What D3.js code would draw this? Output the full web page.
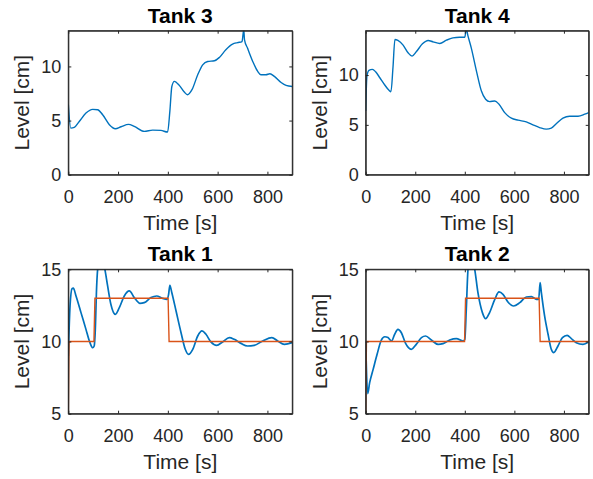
<!DOCTYPE html>
<html>
<head>
<meta charset="utf-8">
<script src="https://cdn.jsdelivr.net/npm/d3@7"></script>
<style>
  body { margin: 0; background: #fff; }
  text { font-family: "Liberation Sans", Arial, Helvetica, sans-serif; fill: #262626; }
  .axis path, .axis line { stroke: #262626; stroke-width: 1; }
  .chart__title { font-weight: bold; fill: #000; }
</style>
</head>
<body>
<div id="tank-chart"></div>
<script>
var xTicks = [0, 200, 400, 600, 800];
var upperTicks = [0, 5, 10];
var lowerTicks = [5, 10, 15];

var tank3Time  = [0, 10, 24, 44, 71, 98, 118, 138, 165, 189, 212, 242, 265, 305, 339, 372, 399, 408, 416, 426, 446, 466, 479, 497, 520, 540, 560, 587, 607, 633, 660, 680, 698, 705, 708, 720, 741, 761, 774, 794, 810, 828, 855, 875, 900];
var tank3Level = [6.5, 4.3, 4.37, 4.92, 5.69, 6.03, 6.0, 5.54, 4.62, 4.25, 4.43, 4.65, 4.46, 4.0, 4.12, 4.09, 3.94, 5.85, 8.15, 8.62, 8.25, 7.63, 7.38, 7.85, 9.23, 10.15, 10.46, 10.52, 10.83, 11.54, 12.06, 12.2, 12.3, 13.4, 12.46, 11.7, 10.46, 9.54, 9.23, 9.23, 9.32, 9.08, 8.52, 8.25, 8.15];

var tank4Time  = [0, 5, 13, 27, 40, 57, 77, 94, 102, 110, 118, 130, 151, 171, 187, 204, 229, 252, 272, 299, 326, 352, 379, 400, 406, 413, 426, 447, 467, 484, 500, 521, 538, 561, 588, 615, 648, 675, 702, 729, 749, 770, 796, 823, 857, 884, 900];
var tank4Level = [6.4, 9.9, 10.47, 10.57, 10.33, 9.73, 9.0, 8.47, 8.33, 10.73, 13.57, 13.47, 13.0, 12.23, 11.9, 12.33, 13.13, 13.47, 13.33, 13.17, 13.5, 13.73, 13.8, 13.8, 14.6, 13.9, 12.73, 10.4, 8.4, 7.57, 7.33, 7.4, 7.07, 6.23, 5.67, 5.47, 5.3, 5.0, 4.73, 4.57, 4.67, 5.13, 5.67, 5.87, 5.87, 6.07, 6.23];

var tank1Time  = [0, 7, 15, 20, 31, 51, 71, 87, 98, 104, 108, 114, 118, 132, 147, 158, 171, 189, 205, 225, 245, 265, 288, 305, 332, 355, 379, 396, 403, 408, 416, 433, 453, 470, 483, 500, 520, 537, 553, 573, 596, 620, 647, 667, 694, 720, 747, 781, 818, 841, 868, 900];
var tank1Level = [9.0, 12.46, 13.66, 13.7, 13.15, 12.0, 10.84, 9.92, 9.57, 9.69, 10.6, 13.85, 15.0, 16.0, 15.0, 13.85, 12.58, 11.88, 12.34, 13.15, 13.5, 13.04, 12.64, 12.69, 13.04, 13.15, 12.99, 12.92, 13.27, 13.89, 13.38, 12.11, 10.61, 9.46, 9.11, 9.46, 10.38, 10.73, 10.5, 9.97, 9.73, 9.97, 10.27, 10.15, 9.87, 9.69, 9.73, 10.04, 10.27, 10.04, 9.8, 9.92];
var tank1RefTime  = [0, 3, 103, 107, 401, 405, 900];
var tank1RefLevel = [5, 10, 10, 13, 13, 10, 10];

var tank2Time  = [0, 8, 16, 30, 46, 63, 77, 90, 104, 117, 130, 144, 161, 184, 204, 225, 242, 265, 292, 312, 339, 366, 393, 400, 406, 413, 426, 440, 453, 471, 484, 500, 521, 538, 554, 574, 597, 622, 648, 669, 689, 698, 704, 709, 722, 736, 749, 759, 776, 794, 813, 830, 850, 877, 900];
var tank2Level = [9.97, 6.39, 7.15, 8.07, 9.11, 10.1, 10.33, 10.27, 10.03, 10.5, 10.84, 10.61, 9.87, 9.46, 9.8, 10.27, 10.38, 10.1, 9.8, 9.85, 10.1, 10.2, 10.03, 10.15, 12.23, 15.0, 16.0, 15.0, 13.38, 12.0, 11.58, 12.0, 12.92, 13.43, 13.27, 12.74, 12.46, 12.69, 13.08, 13.11, 12.92, 12.92, 14.08, 13.38, 11.77, 10.5, 9.46, 9.23, 9.69, 10.27, 10.43, 10.2, 9.92, 9.8, 9.97];
var tank2RefTime  = [0, 3, 399, 403, 700, 704, 900];
var tank2RefLevel = [5, 10, 10, 13, 13, 10, 10];

function zip(t, v) {
  return t.map(function(d, i) { return {time: d, level: v[i]}; });
}

var panels = [
  {title: 'Tank 3', data: zip(tank3Time, tank3Level), ref: null, yDomain: [0, 13.3], yTicks: upperTicks, left: 68.3, top: 30.7, width: 224, height: 144, lw: 1.4},
  {title: 'Tank 4', data: zip(tank4Time, tank4Level), ref: null, yDomain: [0, 14.45], yTicks: upperTicks, left: 365.7, top: 30.7, width: 223, height: 144, lw: 1.4},
  {title: 'Tank 1', data: zip(tank1Time, tank1Level), ref: zip(tank1RefTime, tank1RefLevel), yDomain: [5, 15], yTicks: lowerTicks, left: 68.3, top: 269.3, width: 224, height: 144.4, lw: 1.7},
  {title: 'Tank 2', data: zip(tank2Time, tank2Level), ref: zip(tank2RefTime, tank2RefLevel), yDomain: [5, 15], yTicks: lowerTicks, left: 365.7, top: 269.3, width: 223, height: 144.4, lw: 1.7}
];

var svg = d3.select('#tank-chart').append('svg')
  .attr('width', 593)
  .attr('height', 479)
  .style('display', 'block');

svg.append('rect').attr('width', 593).attr('height', 479).attr('fill', '#fff');

function drawPanel(p, i) {
  var x = d3.scaleLinear().domain([0, 900]).range([0, p.width]);
  var y = d3.scaleLinear().domain(p.yDomain).range([p.height, 0]);

  var g = svg.append('g')
    .attr('transform', 'translate(' + p.left + ',' + p.top + ')');

  g.append('defs').append('clipPath')
    .attr('id', 'clip' + i)
  .append('rect')
    .attr('width', p.width)
    .attr('height', p.height);

  var plot = g.append('g').attr('clip-path', 'url(#clip' + i + ')');

  var levelLine = d3.line()
    .curve(d3.curveMonotoneX)
    .x(function(d) { return x(d.time); })
    .y(function(d) { return y(d.level); });

  var refLine = d3.line()
    .x(function(d) { return x(d.time); })
    .y(function(d) { return y(d.level); });

  plot.append('path')
    .datum(p.data)
    .attr('fill', 'none')
    .attr('stroke', '#0072BD')
    .attr('stroke-width', p.lw)
    .attr('d', levelLine);

  if (p.ref) {
    plot.append('path')
      .datum(p.ref)
      .attr('fill', 'none')
      .attr('stroke', '#D95319')
      .attr('stroke-width', 1.4)
      .attr('d', refLine);
  }

  // ticks point inwards, like matlab
  g.append('g')
    .attr('class', 'axis')
    .attr('transform', 'translate(0,' + p.height + ')')
    .call(d3.axisBottom(x).tickValues(xTicks).tickSizeInner(-3).tickSizeOuter(0).tickPadding(15.5))
    .call(function(a) { a.selectAll('text').style('font-size', '18px'); });

  g.append('g')
    .attr('class', 'axis')
    .call(d3.axisTop(x).tickValues(xTicks).tickSizeInner(-3).tickSizeOuter(0).tickFormat(''));

  g.append('g')
    .attr('class', 'axis')
    .call(d3.axisLeft(y).tickValues(p.yTicks).tickSizeInner(-3).tickSizeOuter(0).tickPadding(7))
    .call(function(a) { a.selectAll('text').style('font-size', '18px'); });

  g.append('g')
    .attr('class', 'axis')
    .attr('transform', 'translate(' + p.width + ',0)')
    .call(d3.axisRight(y).tickValues(p.yTicks).tickSizeInner(-3).tickSizeOuter(0).tickFormat(''));

  g.selectAll('.axis').attr('fill', null).attr('font-family', null).attr('font-size', null);

  g.append('rect')
    .attr('width', p.width)
    .attr('height', p.height)
    .attr('fill', 'none')
    .attr('stroke', '#262626')
    .attr('stroke-width', 1);

  g.append('text')
    .attr('class', 'chart__title')
    .attr('x', p.width / 2)
    .attr('y', -8)
    .style('text-anchor', 'middle')
    .style('font-size', '21px')
    .text(p.title);

  g.append('text')
    .attr('x', p.width / 2)
    .attr('y', p.height + 55)
    .style('text-anchor', 'middle')
    .style('font-size', '21px')
    .text('Time [s]');

  g.append('text')
    .attr('transform', 'translate(-39,' + (p.height / 2) + ') rotate(-90)')
    .style('text-anchor', 'middle')
    .style('font-size', '21px')
    .text('Level [cm]');
}

panels.forEach(drawPanel);
</script>
</body>
</html>
